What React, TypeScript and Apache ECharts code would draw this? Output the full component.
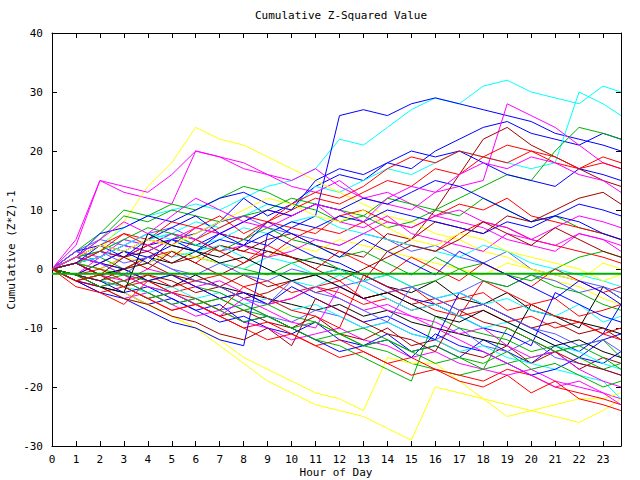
import React, { useEffect, useRef } from "react";
import * as echarts from "echarts";

const hours = [0,1,2,3,4,5,6,7,8,9,10,11,12,13,14,15,16,17,18,19,20,21,22,23,23.75];
const xTickLabels = ["0","1","2","3","4","5","6","7","8","9","10","11","12","13","14","15","16","17","18","19","20","21","22","23"];
const yTickLabels = [-30,-20,-10,0,10,20,30,40];

const palette = {
  red: "#ff0000", green: "#00b000", blue: "#0000ff", magenta: "#ff00ff",
  cyan: "#00ffff", darkred: "#a00000", yellow: "#ffff00", black: "#000000", slate: "#5a5aff",
};

const seriesColors = [
  "cyan","blue","blue","cyan","magenta","darkred","yellow","magenta","green","green",
  "red","blue","red","black","slate","red","green","magenta","cyan","darkred",
  "blue","yellow","red","blue","green","magenta","yellow","yellow","black","darkred",
  "slate","cyan","red","blue","green","magenta","red","blue","darkred","slate",
  "red","blue","green","cyan","magenta",
  "blue","red","darkred","magenta","slate","green","cyan","red","blue","yellow",
  "black","darkred","magenta","green","red",
];

const s01 = [0,2,4,7,9,10,11,10,12,14,15,17,22,21,24,27,29,28,31,32,30,29,28,31,30];
const s02 = [0,1,3,2,4,5,4,6,5,4,7,9,26,27,26,28,29,28,27,26,25,23,22,21,20];
const s03 = [0,1,2,4,3,5,6,8,12,9,11,14,16,15,18,17,20,22,24,25,23,22,21,23,22];
const s04 = [0,2,1,3,5,6,8,7,9,11,10,14,13,15,17,16,18,20,19,18,17,18,30,28,26];
const s05 = [0,5,15,13,12,11,20,19,17,16,14,13,15,12,11,10,13,14,15,28,26,24,21,18,17];
const s06 = [0,-1,-2,-3,-1,-2,-4,-3,-5,-4,-2,-1,0,-2,3,5,10,16,22,24,21,19,17,15,14];
const s07 = [0,1,3,8,14,18,24,22,21,19,17,15,13,11,9,8,6,5,3,2,0,-2,-3,-5,-6];
const s08 = [0,4,15,14,13,16,20,19,18,16,15,17,14,12,13,11,9,8,7,5,4,3,6,5,4];
const s09 = [0,2,5,9,8,10,9,8,9,10,12,11,10,9,7,8,10,12,14,16,15,20,24,23,22];
const s10 = [0,3,6,10,9,11,10,12,14,13,11,10,8,9,12,11,10,9,12,10,8,9,7,6,5];
const s11 = [0,1,3,2,4,6,5,7,9,8,10,12,11,13,15,14,17,16,19,18,20,19,17,18,17];
const s12 = [0,2,6,7,9,8,10,12,13,11,10,15,17,16,18,20,19,20,18,16,15,14,17,16,15];
const s13 = [0,2,1,3,5,4,7,6,5,8,7,6,9,10,8,7,9,11,10,12,9,8,7,6,5];
const s14 = [0,1,-1,0,2,1,3,2,4,3,2,1,0,-1,-3,-4,-2,-5,-6,-4,-7,-8,-9,-10,-11];
const s15 = [0,3,5,4,6,7,5,8,9,7,6,5,4,6,5,3,4,2,1,3,0,-1,-2,-3,-4];
const s16 = [0,-1,1,0,2,3,1,4,3,2,5,7,6,8,5,4,3,6,8,7,5,4,3,2,1];
const s17 = [0,1,2,0,1,3,2,1,0,-1,1,2,0,-2,-1,-3,-2,0,1,-1,-2,0,2,3,2];
const s18 = [0,-1,2,4,3,5,7,6,8,10,9,11,8,7,9,6,5,4,3,6,5,7,9,8,7];
const s19 = [0,2,4,3,5,6,4,5,7,6,8,9,7,6,5,4,3,2,4,3,1,0,-1,-2,-3];
const s20 = [0,1,0,2,3,1,2,4,3,5,6,4,3,2,6,5,8,7,6,9,8,10,12,13,11];
const s21 = [0,-1,1,3,2,4,3,5,4,6,8,7,9,8,10,9,8,7,6,8,7,9,8,6,5];
const s22 = [0,1,0,2,1,3,2,1,0,2,4,3,5,4,3,2,1,0,-1,1,0,-1,-2,1,0];
const s23 = [0,-1,-2,-3,-2,-4,-3,-5,-4,-6,-5,-3,-4,-6,-5,-7,-6,-8,-7,-9,-8,-10,-9,-11,-10];
const s24 = [0,-2,-3,-4,-6,-5,-7,-9,-8,-10,-11,-9,-12,-13,-11,-14,-13,-15,-12,-14,-16,-13,-15,-12,-11];
const s25 = [0,-1,-2,-1,-3,-4,-6,-5,-7,-8,-10,-12,-11,-13,-14,-16,-17,-18,-17,-16,-15,-14,-13,-12,-15];
const s26 = [0,-2,-3,-5,-4,-6,-8,-7,-9,-10,-12,-11,-10,-12,-13,-15,-14,-16,-17,-18,-17,-19,-20,-21,-22];
const s27 = [0,-1,-3,-5,-6,-8,-10,-12,-15,-17,-19,-21,-22,-24,-15,-16,-16,-19,-22,-25,-24,-23,-22,-22,-21];
const s28 = [0,-1,-2,-4,-6,-8,-10,-13,-16,-19,-21,-23,-24,-25,-27,-29,-20,-21,-22,-23,-24,-25,-26,-24,-22];
const s29 = [0,1,-1,0,-2,-3,-1,-3,-4,-5,-6,-7,-6,-8,-7,-9,-10,-11,-12,-13,-6,-8,-10,-3,-5];
const s30 = [0,-2,-1,-3,-5,-4,-6,-8,-7,-9,-10,-8,-11,-12,-10,-13,-12,-14,-15,-13,-16,-14,-17,-15,-16];
const s31 = [0,-1,-3,-2,-4,-6,-5,-7,-6,-8,-9,-7,-8,-10,-9,-11,-12,-10,-13,-14,-12,-15,-16,-17,-18];
const s32 = [0,-1,-2,-3,-4,-3,-5,-4,-6,-5,-7,-6,-8,-10,-9,-11,-12,-14,-13,-15,-16,-17,-18,-19,-22];
const s33 = [0,-2,-4,-3,-5,-7,-6,-8,-10,-9,-11,-13,-12,-14,-16,-15,-17,-18,-19,-17,-18,-20,-21,-22,-23];
const s34 = [0,-1,-2,-4,-3,-5,-7,-6,-9,-8,-10,-12,-14,-13,-12,-15,-11,-13,-14,-16,-18,-17,-15,-16,-14];
const s35 = [0,1,0,-1,-2,-1,-3,-4,-6,-8,-10,-12,-13,-15,-17,-19,-8,-10,-11,-12,-14,-13,-15,-17,-16];
const s36 = [0,1,-1,-2,0,-1,-3,-2,-4,-6,-5,-3,-5,-7,-6,-8,-9,-11,-10,-13,-15,-14,-17,-19,-20];
const s37 = [0,-1,0,-2,-1,-3,-2,-1,-3,-2,-4,-3,-2,-5,-4,-3,-6,-5,-4,-7,-6,-5,-8,-7,-6];
const s38 = [0,2,1,0,-2,-1,-3,-5,-4,-6,-3,-5,-7,-9,-8,-10,-12,-4,-6,-8,-10,-12,-14,-11,-6];
const s39 = [0,-1,-2,0,1,-1,-2,-3,-1,-3,-2,-4,-3,-5,-4,-6,-5,-7,-6,-8,-10,-9,-11,-10,-12];
const s40 = [0,2,3,1,2,0,-1,1,-1,-2,0,-1,-3,-2,-4,-3,-5,-4,-2,-3,-1,-2,-4,-3,-5];
const s41 = [0,2,4,6,5,8,7,9,6,8,11,13,12,14,17,19,18,20,19,21,20,18,17,19,18];
const s42 = [0,3,4,2,5,7,9,6,8,10,9,11,10,12,11,13,15,14,12,10,8,9,11,10,9];
const s43 = [0,-2,-1,-3,-5,-4,-6,-5,-7,-6,-8,-9,-11,-10,-12,-14,-13,-15,-16,-14,-17,-16,-18,-20,-19];
const s44 = [0,1,3,5,4,2,3,1,0,2,1,-1,0,-2,-1,-3,-5,-4,-6,-5,-7,-8,-6,-9,-8];
const s45 = [0,3,2,5,4,6,5,3,4,2,3,5,4,6,8,7,9,10,8,7,5,4,6,5,3];
const s46 = [0,-2,-4,-5,-7,-9,-10,-12,-13,6,4,2,1,-1,-3,-5,-6,-8,-10,-11,-13,-4,-6,-8,-9];
const s47 = [0,-3,-4,-6,-2,-4,-5,-7,-3,-5,-7,-8,-10,-1,-3,-5,-7,-8,-2,-4,-6,-8,-9,-11,-12];
const s48 = [0,-2,-3,-5,-6,-8,-9,-11,-12,-10,-13,-5,-7,-9,-11,-12,-14,-7,-9,-10,-12,-14,-16,-17,-18];
const s49 = [0,2,1,-1,-3,-4,-6,-8,-5,-7,-9,-10,-3,-5,-7,-8,-10,-12,-14,-16,-18,-20,-19,-21,-23];
const s50 = [0,3,1,-1,2,0,-2,-3,-5,-6,-2,-4,-5,-7,-9,-3,-5,-7,-6,-8,-10,-11,-13,-12,-14];
const s51 = [0,2,3,5,7,6,4,3,5,7,5,4,2,3,1,-1,2,0,-2,-3,-1,-3,-4,-6,-7];
const s52 = [0,1,2,4,6,5,3,4,2,0,-2,-3,-1,-3,-5,-7,-6,-8,-10,-9,-11,-13,-14,-16,-17];
const s53 = [0,1,3,6,4,2,5,3,1,4,2,0,3,1,-1,2,0,-2,1,-1,-3,0,-2,-4,-3];
const s54 = [0,1,4,3,1,5,3,6,4,8,6,4,2,5,3,1,-1,3,1,-1,-3,-5,-2,-4,-6];
const s55 = [0,2,4,3,5,4,6,8,10,12,11,9,8,10,7,5,4,6,5,3,2,1,0,-2,-1];
const s56 = [0,-1,-3,-4,6,4,3,1,2,0,-2,-1,-3,-5,-4,-6,-8,-9,-7,-9,-11,-13,-12,-14,-15];
const s57 = [0,1,-1,2,0,3,1,-1,1,3,2,0,-2,0,2,4,3,5,8,6,4,7,5,3,2];
const s58 = [0,2,5,8,6,9,12,10,8,7,9,11,10,8,12,14,13,16,18,17,19,18,16,15,13];
const s59 = [0,-1,-3,-2,-4,-6,-5,-7,-9,-8,-10,-9,-11,-13,-12,-14,-16,-15,-17,-10,-12,-14,-13,-15,-17];
const s60 = [0,-2,-1,-3,-5,-7,-6,-8,-10,-12,-11,-13,-15,-14,-16,-18,-17,-19,-20,-18,-21,-19,-22,-23,-24];

const allSeries = [s01,s02,s03,s04,s05,s06,s07,s08,s09,s10,s11,s12,s13,s14,s15,s16,s17,s18,s19,s20,
  s21,s22,s23,s24,s25,s26,s27,s28,s29,s30,s31,s32,s33,s34,s35,s36,s37,s38,s39,s40,s41,s42,s43,s44,s45,
  s46,s47,s48,s49,s50,s51,s52,s53,s54,s55,s56,s57,s58,s59,s60];

const refLevel = [-0.8, -0.8];
const refHours = [0, 23.75];

const FONT = "DejaVu Sans Mono";

export default function App() {
  const ref = useRef<HTMLDivElement>(null);
  useEffect(() => {
    if (!ref.current) return;
    const chart = echarts.init(ref.current, null, { renderer: "svg" });
    const lineSeries: any[] = allSeries.map((vals, i) => ({
      type: "line",
      name: "run" + (i + 1),
      data: vals.map((v, j) => [hours[j], v]),
      showSymbol: false,
      symbol: "none",
      lineStyle: { width: 1, color: (palette as any)[seriesColors[i]] },
      itemStyle: { color: (palette as any)[seriesColors[i]] },
      silent: true,
    }));
    lineSeries.push({
      type: "line",
      name: "ref",
      data: refHours.map((h, j) => [h, refLevel[j]]),
      showSymbol: false,
      symbol: "none",
      lineStyle: { width: 2, color: "#00b000" },
      silent: true,
    });
    const axisLine = { show: true, onZero: false, lineStyle: { color: "#000", width: 1 } };
    const tick = { inside: true, length: 5, lineStyle: { color: "#000" } };
    chart.setOption({
      animation: false,
      backgroundColor: "#fff",
      textStyle: { fontFamily: FONT },
      title: {
        text: "Cumulative Z-Squared Value",
        left: 336, top: 5, textAlign: "center",
        textStyle: { fontFamily: FONT, fontSize: 11, fontWeight: "normal", color: "#000" },
      },
      grid: { left: 52, right: 19, top: 33, bottom: 34, show: false },
      xAxis: [
        {
          type: "value", min: 0, max: 23.75, interval: 1, position: "bottom",
          axisLine, splitLine: { show: false }, axisTick: tick,
          axisLabel: {
            color: "#000", fontFamily: FONT, fontSize: 11, margin: 8, showMaxLabel: false,
            formatter: (v: number) => (Number.isInteger(v) ? xTickLabels[v] ?? "" : ""),
          },
        },
        {
          type: "value", min: 0, max: 23.75, interval: 1, position: "top",
          axisLine, splitLine: { show: false }, axisTick: tick,
          axisLabel: { show: false },
        },
      ],
      yAxis: [
        {
          type: "value", min: yTickLabels[0], max: yTickLabels[yTickLabels.length - 1], interval: 10, position: "left",
          axisLine, splitLine: { show: false }, axisTick: tick,
          axisLabel: { color: "#000", fontFamily: FONT, fontSize: 11, margin: 9 },
        },
        {
          type: "value", min: yTickLabels[0], max: yTickLabels[yTickLabels.length - 1], interval: 10, position: "right",
          axisLine, splitLine: { show: false }, axisTick: tick,
          axisLabel: { show: false },
        },
      ],
      graphic: [
        {
          type: "text", x: 11, y: 250, rotation: Math.PI / 2,
          style: { text: "Cumulative (Z*Z)-1", fontFamily: FONT, fontSize: 11, fill: "#000", align: "center", verticalAlign: "middle" },
        },
        {
          type: "text", x: 336, y: 472,
          style: { text: "Hour of Day", fontFamily: FONT, fontSize: 11, fill: "#000", align: "center", verticalAlign: "middle" },
        },
      ],
      series: lineSeries,
    });
    return () => chart.dispose();
  }, []);
  return <div ref={ref} style={{ width: 640, height: 480, position: "absolute", left: 0, top: 0 }} />;
}
